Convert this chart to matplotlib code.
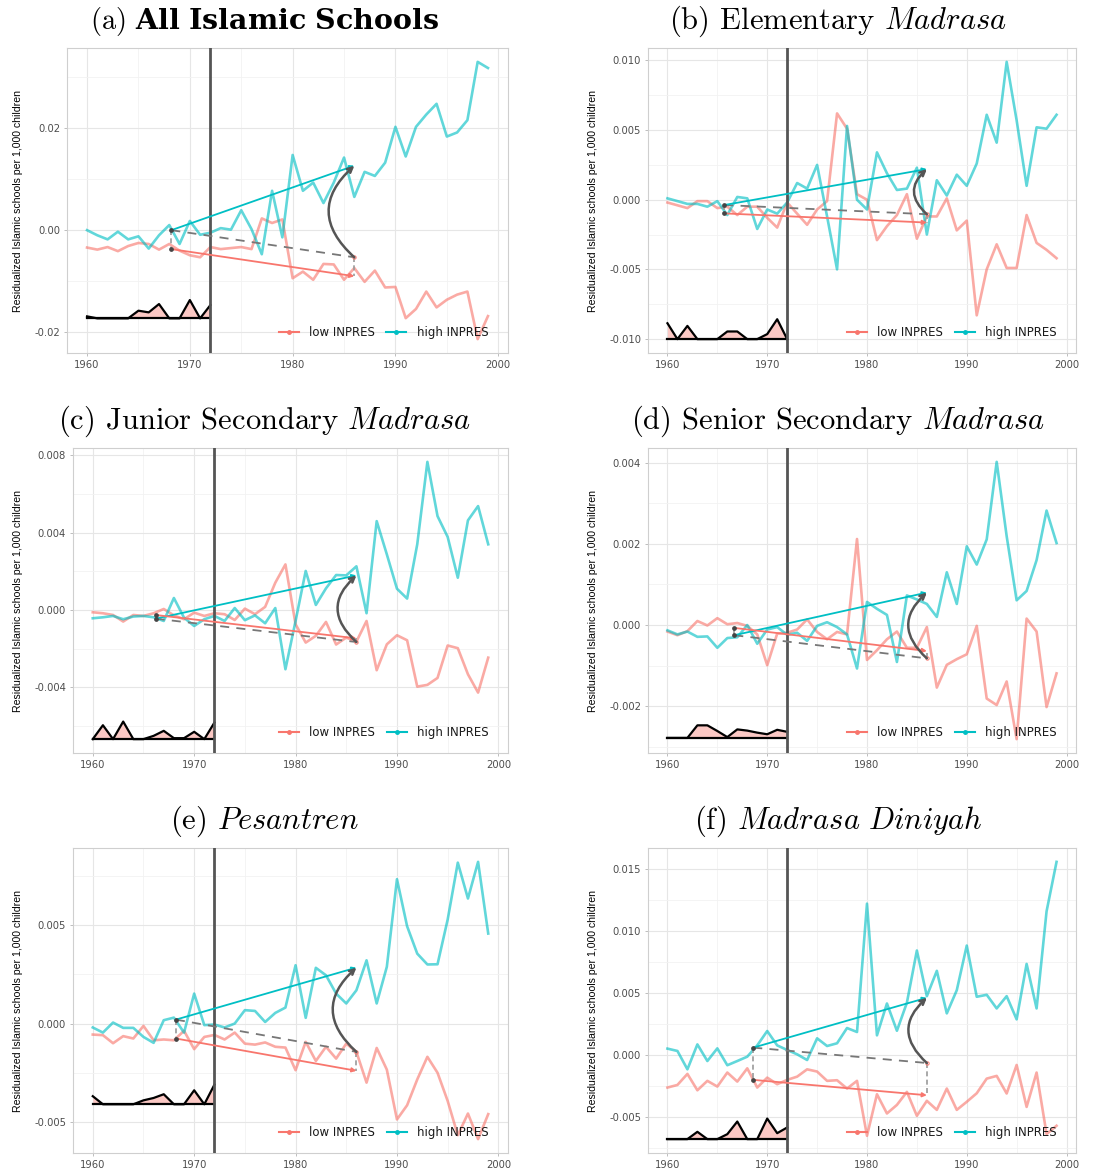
import numpy as np
import matplotlib
matplotlib.use("Agg")
import matplotlib.pyplot as plt
from matplotlib.lines import Line2D
from matplotlib.ticker import MultipleLocator, FuncFormatter

plt.rcParams["mathtext.fontset"] = "cm"
plt.rcParams["axes.unicode_minus"] = False

years = np.arange(1960, 2000)
pre_years = np.arange(1960, 1973)

# ---- residualized schools per 1,000 children, by program intensity ----
a_high = [0.0000, -0.0010, -0.0018, -0.0003, -0.0018, -0.0012, -0.0036, -0.0010, 0.0010, -0.0027,
          0.0018, -0.0009, -0.0005, 0.0004, 0.0001, 0.0039, 0.0002, -0.0047, 0.0077, -0.0014,
          0.0147, 0.0077, 0.0093, 0.0053, 0.0093, 0.0142, 0.0065, 0.0114, 0.0106, 0.0132,
          0.0202, 0.0144, 0.0202, 0.0226, 0.0247, 0.0183, 0.0191, 0.0215, 0.0329, 0.0317]
a_low = [-0.0034, -0.0038, -0.0033, -0.0041, -0.0031, -0.0025, -0.0027, -0.0038, -0.0027, -0.0040,
         -0.0049, -0.0053, -0.0033, -0.0037, -0.0035, -0.0033, -0.0037, 0.0023, 0.0014, 0.0021,
         -0.0094, -0.0081, -0.0097, -0.0066, -0.0067, -0.0097, -0.0074, -0.0101, -0.0079, -0.0112,
         -0.0111, -0.0172, -0.0154, -0.0120, -0.0151, -0.0136, -0.0126, -0.0120, -0.0213, -0.0168]

b_high = [0.0001, -0.0001, -0.0003, -0.0003, -0.0005, -0.0001, -0.0011, 0.0002, 0.0001, -0.0021,
          -0.0007, -0.0010, -0.0002, 0.0012, 0.0008, 0.0025, -0.0012, -0.0050, 0.0053, 0.0000,
          -0.0007, 0.0034, 0.0019, 0.0007, 0.0008, 0.0023, -0.0025, 0.0014, 0.0003, 0.0018,
          0.0010, 0.0026, 0.0061, 0.0041, 0.0099, 0.0057, 0.0010, 0.0052, 0.0051, 0.0061]
b_low = [-0.0002, -0.0004, -0.0006, -0.0001, -0.0001, -0.0006, -0.0005, -0.0011, -0.0005, -0.0005,
         -0.0013, -0.0020, -0.0002, -0.0010, -0.0018, -0.0007, -0.0001, 0.0062, 0.0051, 0.0004,
         0.0000, -0.0029, -0.0019, -0.0011, 0.0004, -0.0028, -0.0012, -0.0012, 0.0001, -0.0022,
         -0.0015, -0.0083, -0.0050, -0.0032, -0.0049, -0.0049, -0.0011, -0.0031, -0.0036, -0.0042]

c_high = [-0.00043, -0.00038, -0.00031, -0.00048, -0.00034, -0.00031, -0.00038, -0.00057, 0.00062, -0.00040,
          -0.00083, -0.00048, -0.00031, -0.00057, 0.00010, -0.00053, -0.00028, -0.00069, 0.00010, -0.00307,
          -0.00057, 0.00202, 0.00026, 0.00112, 0.00181, 0.00179, 0.00226, -0.00017, 0.00460, 0.00288,
          0.00110, 0.00059, 0.00340, 0.00767, 0.00486, 0.00378, 0.00167, 0.00464, 0.00538, 0.00340]
c_low = [-0.00012, -0.00017, -0.00026, -0.00060, -0.00026, -0.00031, -0.00017, 0.00005, -0.00028, -0.00048,
         -0.00014, -0.00031, -0.00017, -0.00022, -0.00052, 0.00007, -0.00022, 0.00016, 0.00141, 0.00236,
         -0.00074, -0.00169, -0.00134, -0.00062, -0.00179, -0.00143, -0.00164, -0.00057, -0.00312, -0.00178,
         -0.00131, -0.00157, -0.00397, -0.00388, -0.00352, -0.00184, -0.00198, -0.00333, -0.00428, -0.00247]

d_high = [-0.00013, -0.00023, -0.00016, -0.00029, -0.00028, -0.00056, -0.00032, -0.00030, 0.00000, -0.00046,
          -0.00011, -0.00005, -0.00024, -0.00019, -0.00039, -0.00002, 0.00007, -0.00005, -0.00023, -0.00107,
          0.00057, 0.00040, 0.00025, -0.00091, 0.00073, 0.00063, 0.00052, 0.00020, 0.00130, 0.00052,
          0.00194, 0.00149, 0.00211, 0.00402, 0.00219, 0.00061, 0.00084, 0.00160, 0.00282, 0.00202]
d_low = [-0.00016, -0.00025, -0.00015, 0.00010, -0.00001, 0.00017, 0.00002, 0.00005, -0.00002, -0.00023,
         -0.00099, -0.00021, -0.00019, -0.00011, 0.00014, -0.00017, -0.00035, -0.00017, -0.00023, 0.00212,
         -0.00086, -0.00062, -0.00035, -0.00016, -0.00056, -0.00056, -0.00005, -0.00154, -0.00098, -0.00084,
         -0.00072, -0.00002, -0.00181, -0.00197, -0.00139, -0.00281, 0.00016, -0.00016, -0.00202, -0.00119]

e_high = [-0.00020, -0.00046, 0.00005, -0.00022, -0.00022, -0.00068, -0.00098, 0.00017, 0.00030, -0.00046,
          0.00152, -0.00008, -0.00005, -0.00020, 0.00000, 0.00068, 0.00064, 0.00008, 0.00054, 0.00081,
          0.00296, 0.00029, 0.00283, 0.00245, 0.00152, 0.00102, 0.00169, 0.00321, 0.00102, 0.00288,
          0.00733, 0.00494, 0.00355, 0.00300, 0.00301, 0.00528, 0.00817, 0.00635, 0.00821, 0.00457]
e_low = [-0.00056, -0.00059, -0.00100, -0.00064, -0.00076, -0.00012, -0.00085, -0.00081, -0.00085, -0.00037,
         -0.00130, -0.00068, -0.00058, -0.00081, -0.00046, -0.00102, -0.00107, -0.00096, -0.00118, -0.00122,
         -0.00237, -0.00093, -0.00190, -0.00118, -0.00178, -0.00102, -0.00144, -0.00300, -0.00124, -0.00234,
         -0.00487, -0.00415, -0.00284, -0.00169, -0.00250, -0.00393, -0.00567, -0.00457, -0.00587, -0.00460]

f_high = [0.00054, 0.00035, -0.00113, 0.00088, -0.00046, 0.00056, -0.00080, -0.00046, -0.00011, 0.00080,
          0.00196, 0.00080, 0.00043, 0.00008, -0.00038, 0.00137, 0.00075, 0.00097, 0.00220, 0.00188,
          0.01223, 0.00161, 0.00418, 0.00198, 0.00424, 0.00845, 0.00477, 0.00681, 0.00338, 0.00525,
          0.00885, 0.00472, 0.00488, 0.00378, 0.00477, 0.00290, 0.00737, 0.00378, 0.01161, 0.01560]
f_low = [-0.00260, -0.00239, -0.00150, -0.00282, -0.00206, -0.00252, -0.00139, -0.00212, -0.00105, -0.00260,
         -0.00180, -0.00233, -0.00198, -0.00172, -0.00113, -0.00131, -0.00206, -0.00201, -0.00268, -0.00206,
         -0.00649, -0.00314, -0.00469, -0.00400, -0.00295, -0.00488, -0.00367, -0.00440, -0.00268, -0.00440,
         -0.00375, -0.00306, -0.00188, -0.00166, -0.00308, -0.00078, -0.00416, -0.00139, -0.00635, -0.00568]

# ---- pre-1972 profile (height above its base line) ----
a_pre = [0.00039, 0, 0, 0, 0, 0.00150, 0.00117, 0.00280, 0, 0, 0.00358, 0, 0.00260]
b_pre = [0.00114, 0, 0.00095, 0, 0, 0, 0.00055, 0.00055, 0, 0, 0.00036, 0.00143, 0]
c_pre = [0, 0.00072, 0, 0.00091, 0, 0, 0.00017, 0.00043, 0.00005, 0.00005, 0.00038, 0, 0.00086]
d_pre = [0, 0, 0, 0.00031, 0.00031, 0.00017, 0.00002, 0.00021, 0.00018, 0.00013, 0.00009, 0.00020, 0.00015]
e_pre = [0.00041, 0, 0, 0, 0, 0.00020, 0.00032, 0.00051, 0, 0, 0.00071, 0, 0.00100]
f_pre = [0, 0, 0, 0.00059, 0, 0, 0.00040, 0.00142, 0, 0, 0.00166, 0.00048, 0.00094]
pre_base = [-0.01724, -0.01001, -0.00669, -0.00278, -0.00410, -0.00676]

# ---- difference-in-differences endpoints ----
did_start_year = [1968.2, 1965.7, 1966.2, 1966.7, 1968.2, 1968.6]
did_end_year = 1986
high_start = [0.0000, -0.00038, -0.00045, -0.00025, 0.00020, 0.00062]
high_end = [0.0126, 0.0022, 0.00179, 0.00080, 0.00284, 0.00464]
low_start = [-0.0037, -0.00098, -0.00026, -0.00007, -0.00076, -0.00198]
low_end = [-0.0090, -0.00164, -0.00147, -0.00064, -0.00240, -0.00322]

titles = [
    "(a) " + r"$\mathbf{All\ Islamic\ Schools}$",
    "(b) Elementary " + r"$\mathit{Madrasa}$",
    "(c) Junior Secondary " + r"$\mathit{Madrasa}$",
    "(d) Senior Secondary " + r"$\mathit{Madrasa}$",
    "(e) " + r"$\mathit{Pesantren}$",
    "(f) " + r"$\mathit{Madrasa\ Diniyah}$",
]
title_mathfont = ["dejavuserif", "cm", "cm", "cm", "cm", "cm"]
title_size = [20.5, 22, 22, 22, 22, 22]
tick_step = [0.02, 0.005, 0.004, 0.002, 0.005, 0.005]
tick_decimals = [2, 3, 3, 3, 3, 3]

lows = [a_low, b_low, c_low, d_low, e_low, f_low]
highs = [a_high, b_high, c_high, d_high, e_high, f_high]
pres = [a_pre, b_pre, c_pre, d_pre, e_pre, f_pre]

RED = "#F8766D"
CYAN = "#00BFC4"
W, H = 1098, 1168

# axes boxes in pixels: left, top, right, bottom
boxes = [(67, 48, 508, 353), (648, 48, 1076, 353),
         (73, 448, 508, 753), (648, 448, 1076, 753),
         (73, 848, 508, 1153), (648, 848, 1076, 1153)]
title_x = [264, 838]
ylabel_x = [18, 593]

fig = plt.figure(figsize=(W / 100, H / 100), dpi=100)

for i in range(6):
    l, t, r, b = boxes[i]
    ax = fig.add_axes([l / W, 1 - b / H, (r - l) / W, (b - t) / H])
    low = np.array(lows[i])
    high = np.array(highs[i])
    pre = np.array(pres[i])
    base = pre_base[i]
    x0, x1 = did_start_year[i], did_end_year
    hs, he, ls, le = high_start[i], high_end[i], low_start[i], low_end[i]
    cf = hs + (le - ls)

    # scales, grid and frame
    ax.set_xlim(1958.05, 2000.95)
    allv = np.concatenate([low, high, [base], base + pre, [hs, he, ls, le, cf]])
    lo, hi = allv.min(), allv.max()
    pad = 0.05 * (hi - lo)
    ax.set_ylim(lo - pad, hi + pad)
    ax.xaxis.set_major_locator(MultipleLocator(10))
    ax.xaxis.set_minor_locator(MultipleLocator(5))
    ax.yaxis.set_major_locator(MultipleLocator(tick_step[i]))
    ax.yaxis.set_minor_locator(MultipleLocator(tick_step[i] / 2))
    dec = tick_decimals[i]
    ax.yaxis.set_major_formatter(FuncFormatter(
        lambda v, p, d=dec: f"{(0.0 if abs(v) < 1e-12 else v):.{d}f}"))
    ax.grid(which="major", color="#e6e6e6", lw=0.8)
    ax.grid(which="minor", color="#f2f2f2", lw=0.6)
    ax.set_axisbelow(True)
    for s in ax.spines.values():
        s.set_color("#cfcfcf")
        s.set_linewidth(0.8)
    ax.tick_params(which="major", length=2.5, width=0.6, color="#b3b3b3",
                   labelsize=7.2, labelcolor="#4d4d4d", pad=2.5)
    ax.tick_params(which="minor", length=0)

    # series
    ax.plot(years, low, color=RED, alpha=0.62, lw=1.9, zorder=3)
    ax.plot(years, high, color=CYAN, alpha=0.62, lw=1.9, zorder=3)

    # pre-period profile
    ax.fill_between(pre_years, base, base + pre, color="#fbc8c4", lw=0, zorder=3)
    ax.plot(pre_years, base + pre, color="black", lw=1.6, zorder=4)
    ax.plot([pre_years[0], pre_years[-1]], [base, base], color="black", lw=1.6, zorder=4)

    # reform year
    ax.axvline(1972, color="#555555", lw=2.0, zorder=4)

    # trend arrows
    ax.plot([x0, x0], [hs, ls], color="#9a9a9a", lw=1.2, ls=(0, (3, 2)), zorder=5)
    ax.plot([x1, x1], [cf, le], color="#9a9a9a", lw=1.2, ls=(0, (3, 2)), zorder=5)
    ax.plot([x0, x1], [hs, cf], color="#777777", lw=1.3, ls=(0, (5, 4)), zorder=5)
    for (ys, ye, col) in [(hs, he, CYAN), (ls, le, RED)]:
        ax.annotate("", xy=(x1, ye), xytext=(x0, ys),
                    arrowprops=dict(arrowstyle="-|>", color=col, lw=1.3,
                                    mutation_scale=6, shrinkA=0, shrinkB=0),
                    zorder=6)
    ax.plot([x0, x0], [hs, ls], "o", ms=2.4, color="#444444", zorder=6)
    ax.plot([x1], [cf], "o", ms=2.4, mfc="none", mec=RED, mew=0.7, zorder=6)
    ax.annotate("", xy=(x1, he), xytext=(x1, cf),
                arrowprops=dict(arrowstyle="->", color="#555555", lw=1.8,
                                connectionstyle="arc3,rad=-0.55",
                                mutation_scale=9, shrinkA=0, shrinkB=0),
                zorder=7)

    # legend
    handles = [Line2D([], [], color=RED, lw=1.5, marker="o", ms=2.5),
               Line2D([], [], color=CYAN, lw=1.5, marker="o", ms=2.5)]
    leg = ax.legend(handles, ["low INPRES", "high INPRES"], ncol=2, loc="center right",
                    bbox_to_anchor=(0.955, 0.066), frameon=False, fontsize=8.5,
                    handlelength=1.7, handletextpad=0.85, columnspacing=1.0,
                    borderpad=0, borderaxespad=0)
    for txt in leg.get_texts():
        txt.set_color("#1a1a1a")

    # titles and axis label
    col = i % 2
    row = i // 2
    fig.text(title_x[col] / W, 1 - (29 + 400 * row) / H, titles[i],
             ha="center", va="baseline", fontsize=title_size[i], fontfamily="cmr10",
             math_fontfamily=title_mathfont[i])
    fig.text(ylabel_x[col] / W, 1 - ((t + b) / 2) / H,
             "Residualized Islamic schools per 1,000 children",
             rotation=90, ha="center", va="center", fontsize=7.6,
             fontfamily="Liberation Sans")

fig.savefig("out.png", dpi=100)
